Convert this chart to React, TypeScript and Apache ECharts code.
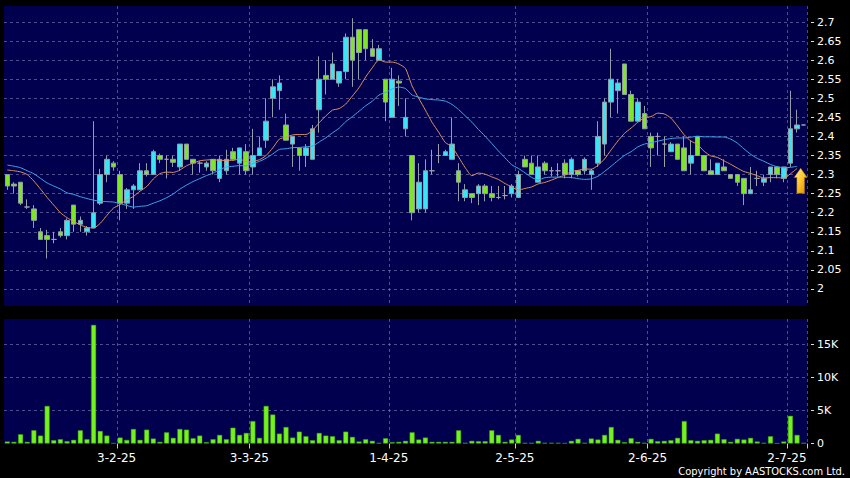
import React, { useEffect, useRef } from 'react';
import * as echarts from 'echarts';

// Trading days shown (d-m-25 format on the axis)
const janDays = [6, 7, 8, 9, 10, 13, 14, 15, 16, 17, 20, 21, 22, 23, 24, 27, 28];
const febDays = [3, 4, 5, 6, 7, 10, 11, 12, 13, 14, 17, 18, 19, 20, 21, 24, 25, 26, 27, 28];
const marDays = [3, 4, 5, 6, 7, 10, 11, 12, 13, 14, 17, 18, 19, 20, 21, 24, 25, 26, 27, 28, 31];
const aprDays = [1, 2, 3, 7, 8, 9, 10, 11, 14, 15, 16, 17, 22, 23, 24, 25, 28, 29, 30];
const mayDays = [2, 6, 7, 8, 9, 12, 13, 14, 15, 16, 19, 20, 21, 22, 23, 26, 27, 28, 29, 30];
const junDays = [2, 3, 4, 5, 6, 9, 10, 11, 12, 13, 16, 17, 18, 19, 20, 23, 24, 25, 26, 27, 30];
const julDays = [2, 3, 4];
const months: [number, number[]][] = [
  [1, janDays], [2, febDays], [3, marDays], [4, aprDays], [5, mayDays], [6, junDays], [7, julDays],
];

const opens = [
  2.30, 2.275, 2.28, 2.215, 2.21, 2.15, 2.14, 2.13, 2.15, 2.14,
  2.22, 2.17, 2.15, 2.16, 2.225, 2.30, 2.33, 2.30, 2.225, 2.26,
  2.26, 2.31, 2.30, 2.35, 2.34, 2.34, 2.32, 2.38, 2.34, 2.33,
  2.32, 2.34, 2.29, 2.31, 2.36, 2.33, 2.36, 2.32, 2.35, 2.39,
  2.50, 2.52, 2.43, 2.38, 2.37, 2.35, 2.34, 2.47, 2.56, 2.55,
  2.54, 2.57, 2.66, 2.68, 2.68, 2.63, 2.60, 2.55, 2.45, 2.545,
  2.42, 2.35, 2.21, 2.21, 2.31, 2.35, 2.35, 2.34, 2.31, 2.24,
  2.25, 2.25, 2.27, 2.25, 2.24, 2.245, 2.25, 2.24, 2.34, 2.33,
  2.28, 2.33, 2.31, 2.31, 2.33, 2.30, 2.31, 2.31, 2.30, 2.33,
  2.38, 2.49, 2.52, 2.59, 2.51, 2.44, 2.46, 2.40, 2.40, 2.38,
  2.36, 2.38, 2.37, 2.33, 2.40, 2.35, 2.31, 2.30, 2.32, 2.30,
  2.30, 2.29, 2.25, 2.29, 2.28, 2.30, 2.32, 2.29, 2.33, 2.42,
  2.43,
];
const closes = [
  2.27, 2.27, 2.225, 2.215, 2.18, 2.13, 2.13, 2.13, 2.14, 2.18,
  2.17, 2.18, 2.16, 2.20, 2.30, 2.34, 2.32, 2.225, 2.26, 2.27,
  2.31, 2.30, 2.36, 2.34, 2.34, 2.332, 2.38, 2.34, 2.33, 2.33,
  2.33, 2.31, 2.34, 2.34, 2.34, 2.37, 2.31, 2.35, 2.37, 2.44,
  2.53, 2.54, 2.39, 2.40, 2.35, 2.37, 2.42, 2.55, 2.55, 2.59,
  2.57, 2.66, 2.60, 2.62, 2.63, 2.61, 2.63, 2.49, 2.55, 2.54,
  2.45, 2.20, 2.28, 2.31, 2.31, 2.35, 2.36, 2.38, 2.28, 2.26,
  2.24, 2.27, 2.25, 2.24, 2.24, 2.245, 2.27, 2.30, 2.32, 2.30,
  2.32, 2.31, 2.31, 2.31, 2.30, 2.34, 2.30, 2.34, 2.31, 2.40,
  2.49, 2.55, 2.54, 2.51, 2.44, 2.49, 2.42, 2.37, 2.40, 2.38,
  2.38, 2.34, 2.31, 2.35, 2.35, 2.31, 2.30, 2.33, 2.31, 2.29,
  2.28, 2.25, 2.26, 2.29, 2.29, 2.32, 2.30, 2.32, 2.42, 2.43,
  2.43,
];
const lows = [
  2.26, 2.25, 2.22, 2.21, 2.16, 2.13, 2.08, 2.12, 2.135, 2.13,
  2.15, 2.15, 2.14, 2.16, 2.22, 2.28, 2.31, 2.18, 2.21, 2.21,
  2.26, 2.295, 2.30, 2.33, 2.29, 2.32, 2.31, 2.34, 2.30, 2.305,
  2.31, 2.30, 2.28, 2.30, 2.34, 2.30, 2.30, 2.30, 2.35, 2.37,
  2.45, 2.47, 2.39, 2.32, 2.31, 2.32, 2.34, 2.41, 2.51, 2.55,
  2.53, 2.55, 2.53, 2.55, 2.60, 2.61, 2.60, 2.44, 2.45, 2.48,
  2.40, 2.18, 2.20, 2.20, 2.30, 2.33, 2.35, 2.34, 2.23, 2.23,
  2.225, 2.22, 2.23, 2.23, 2.235, 2.235, 2.24, 2.24, 2.32, 2.30,
  2.28, 2.30, 2.295, 2.295, 2.29, 2.29, 2.295, 2.30, 2.26, 2.32,
  2.35, 2.45, 2.46, 2.51, 2.44, 2.44, 2.42, 2.32, 2.35, 2.32,
  2.36, 2.34, 2.31, 2.30, 2.35, 2.31, 2.30, 2.30, 2.31, 2.29,
  2.27, 2.22, 2.25, 2.27, 2.27, 2.28, 2.29, 2.28, 2.32, 2.41,
  2.43,
];
const highs = [
  2.30, 2.28, 2.28, 2.235, 2.22, 2.16, 2.155, 2.15, 2.16, 2.185,
  2.22, 2.19, 2.165, 2.44, 2.315, 2.35, 2.335, 2.31, 2.265, 2.275,
  2.33, 2.33, 2.365, 2.355, 2.35, 2.35, 2.38, 2.38, 2.34, 2.335,
  2.335, 2.34, 2.35, 2.365, 2.37, 2.37, 2.38, 2.42, 2.40, 2.50,
  2.55, 2.56, 2.46, 2.40, 2.37, 2.38, 2.43, 2.61, 2.60, 2.62,
  2.57, 2.67, 2.71, 2.68, 2.68, 2.655, 2.64, 2.55, 2.58, 2.56,
  2.50, 2.35, 2.33, 2.34, 2.365, 2.38, 2.365, 2.45, 2.33, 2.275,
  2.25, 2.275, 2.275, 2.27, 2.27, 2.27, 2.275, 2.31, 2.35, 2.35,
  2.35, 2.335, 2.32, 2.33, 2.34, 2.345, 2.31, 2.345, 2.315, 2.44,
  2.50, 2.63, 2.55, 2.59, 2.52, 2.50, 2.48, 2.41, 2.41, 2.40,
  2.385, 2.38, 2.40, 2.39, 2.40, 2.35, 2.34, 2.33, 2.34, 2.30,
  2.30, 2.29, 2.32, 2.31, 2.30, 2.32, 2.32, 2.32, 2.52, 2.47,
  2.43,
];
const volumes = [
  300, 250, 1400, 250, 2000, 1200, 5700, 500, 650, 350,
  550, 2000, 650, 18000, 1900, 1200, 50, 900, 550, 2200,
  550, 2100, 750, 250, 1700, 850, 2200, 2100, 800, 1200,
  200, 650, 1300, 650, 2400, 1300, 1600, 3400, 850, 5700,
  4400, 1500, 2500, 900, 1800, 1100, 500, 1600, 1200, 1100,
  500, 1800, 1000, 300, 650, 400, 100, 800, 200, 250,
  400, 1700, 600, 900, 250, 250, 250, 250, 2000, 100,
  400, 350, 350, 2000, 1300, 250, 600, 1300, 100, 100,
  400, 100, 100, 100, 50, 400, 700, 100, 750, 600,
  1300, 2500, 550, 200, 800, 250, 100, 700, 350, 400,
  500, 850, 3400, 500, 400, 500, 550, 1500, 650, 250,
  700, 600, 850, 300, 100, 1100, 20, 300, 4200, 1300,
  100,
];
// moving-average values before enough visible history exists
const ma10Lead = [2.312, 2.31, 2.307, 2.30, 2.283, 2.262, 2.24, 2.22, 2.20];
const ma20Lead = [
  2.325, 2.322, 2.318, 2.31, 2.302, 2.29, 2.278, 2.27, 2.262, 2.252,
  2.248, 2.242, 2.237, 2.233, 2.23, 2.229, 2.228, 2.224, 2.219,
];
const maLastIndex = 119;
const arrowIndex = 120;
const arrowValue = 2.284;
const copyrightText = 'Copyright by AASTOCKS.com Ltd.';

const categories: string[] = [];
const monthStartIdx = new Set<number>();
months.forEach(([m, days], mi) => {
  days.forEach((d, di) => {
    if (di === 0 && mi > 0) monthStartIdx.add(categories.length);
    categories.push(`${d}-${m}-25`);
  });
});

function sma(period: number, lead: number[]) {
  return closes.map((_, i) => {
    if (i < lead.length) return lead[i];
    if (i > maLastIndex) return '-';
    let s = 0;
    for (let k = i - period + 1; k <= i; k++) s += closes[k];
    return +(s / period).toFixed(4);
  });
}

const NAVY = '#00004e';
const GRID_LINE = { color: 'rgba(130,130,185,0.6)', type: [3, 3] as any, width: 1 };
const FONT = '"DejaVu Sans", Verdana, sans-serif';
const isMonthStart = (idx: number) => monthStartIdx.has(idx);

export default function App() {
  const ref = useRef<HTMLDivElement>(null);
  useEffect(() => {
    document.body.style.margin = '0';
    document.body.style.background = '#000';
    const chart = echarts.init(ref.current!, undefined, { renderer: 'svg' });
    const candleData = opens.map((o, i) => [o, closes[i], lows[i], highs[i]]);
    const option: any = {
      animation: false,
      backgroundColor: '#000000',
      textStyle: { fontFamily: FONT },
      grid: [
        { left: 4, right: 43, top: 6, height: 300, show: true, backgroundColor: NAVY, borderWidth: 0 },
        { left: 4, right: 43, top: 319, height: 124.5, show: true, backgroundColor: NAVY, borderWidth: 0 },
      ],
      xAxis: [
        {
          type: 'category', gridIndex: 0, data: categories, boundaryGap: true,
          axisLine: { show: false }, axisTick: { show: false }, axisLabel: { show: false },
          splitLine: { show: true, interval: isMonthStart, lineStyle: GRID_LINE },
        },
        {
          type: 'category', gridIndex: 1, data: categories, boundaryGap: true,
          axisLine: { show: false },
          axisTick: { show: true, interval: isMonthStart, length: 5, lineStyle: { color: '#cccccc' } },
          axisLabel: {
            interval: isMonthStart, color: '#ffffff', fontSize: 12, margin: 8,
            fontFamily: FONT, padding: [0, 7, 0, 0],
          },
          splitLine: { show: true, interval: isMonthStart, lineStyle: GRID_LINE },
        },
      ],
      yAxis: [
        {
          type: 'value', gridIndex: 0, position: 'right', min: 1.9554, max: 2.742,
          splitNumber: 15, minInterval: 0.05, maxInterval: 0.05, offset: 4,
          axisLine: { show: false },
          axisTick: { show: true, length: 3, lineStyle: { color: '#dddddd' } },
          axisLabel: { color: '#ffffff', fontSize: 11, margin: 6, showMinLabel: false, showMaxLabel: false, fontFamily: FONT },
          splitLine: { show: true, showMinLine: false, showMaxLine: false, lineStyle: GRID_LINE },
        },
        {
          type: 'value', gridIndex: 1, position: 'right', min: 0, max: 18900,
          splitNumber: 4, minInterval: 5000, maxInterval: 5000, offset: 4,
          axisLine: { show: false },
          axisTick: { show: true, length: 3, lineStyle: { color: '#dddddd' } },
          axisLabel: {
            color: '#ffffff', fontSize: 11, margin: 6, showMaxLabel: false, fontFamily: FONT,
            formatter: (v: number) => (v === 0 ? '0' : `${v / 1000}K`),
          },
          splitLine: { show: true, showMinLine: false, showMaxLine: false, lineStyle: GRID_LINE },
        },
      ],
      series: [
        {
          type: 'candlestick', xAxisIndex: 0, yAxisIndex: 0, data: candleData, barWidth: 5,
          itemStyle: {
            color: '#3ae4f2', color0: '#7ee622',
            borderColor: '#8f9ea8', borderColor0: '#8f9ea8', borderColorDoji: '#a0a0a8', borderWidth: 1,
          },
          markPoint: {
            silent: true,
            data: [
              {
                coord: [categories[arrowIndex], arrowValue],
                symbol: 'path://M6 0 L12 9 L9.5 9 L9.5 24 L2.5 24 L2.5 9 L0 9 Z',
                symbolSize: [13, 25], symbolOffset: [-3, 0],
                itemStyle: {
                  color: new echarts.graphic.LinearGradient(0, 0, 1, 1, [
                    { offset: 0, color: '#fff4b0' },
                    { offset: 0.45, color: '#ffcc33' },
                    { offset: 1, color: '#d98c00' },
                  ]),
                  borderColor: '#b87400', borderWidth: 0.5,
                },
                label: { show: false },
              },
            ],
          },
        },
        {
          type: 'line', xAxisIndex: 0, yAxisIndex: 0, data: sma(10, ma10Lead), symbol: 'none',
          smooth: 0.2, lineStyle: { color: '#e0905e', width: 1 },
        },
        {
          type: 'line', xAxisIndex: 0, yAxisIndex: 0, data: sma(20, ma20Lead), symbol: 'none',
          smooth: 0.2, lineStyle: { color: '#3ea8ea', width: 1 },
        },
        {
          type: 'bar', xAxisIndex: 1, yAxisIndex: 1, data: volumes, barWidth: 5,
          itemStyle: { color: '#74f21c', borderColor: '#3f9c10', borderWidth: 0.5 },
        },
      ],
      graphic: [
        {
          type: 'text', right: 5, bottom: 1,
          style: {
            text: copyrightText, fill: '#ffffff',
            font: '11px "DejaVu Sans Condensed", "DejaVu Sans", sans-serif',
          },
        },
      ],
    };
    chart.setOption(option);
    return () => chart.dispose();
  }, []);
  return <div ref={ref} style={{ width: 850, height: 478, position: 'fixed', left: 0, top: 0 }} />;
}
